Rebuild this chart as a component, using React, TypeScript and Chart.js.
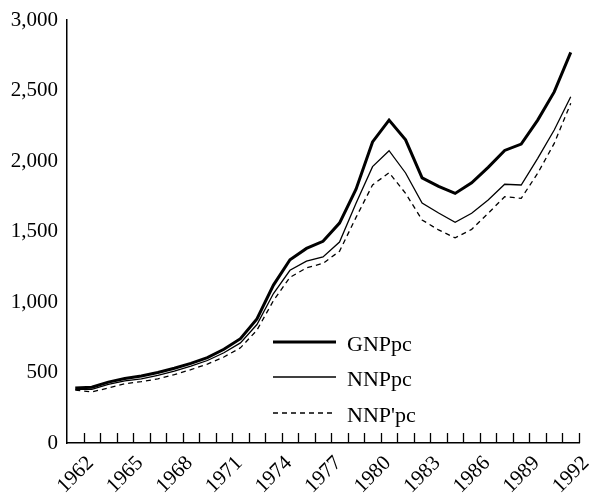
import { useEffect, useRef } from "react";
import { Chart, registerables } from "chart.js";

Chart.register(...registerables);

// Data years (each value is plotted in the middle of its year)
const years = [
  1961, 1962, 1963, 1964, 1965, 1966, 1967, 1968, 1969, 1970,
  1971, 1972, 1973, 1974, 1975, 1976, 1977, 1978, 1979, 1980,
  1981, 1982, 1983, 1984, 1985, 1986, 1987, 1988, 1989, 1990, 1991,
];

const gnpPc = [
  390, 395, 432, 458, 475, 500, 530, 565, 605, 665,
  740, 880, 1120, 1300, 1380, 1430, 1560, 1800, 2135, 2290,
  2150, 1880, 1820, 1770, 1845, 1955, 2075, 2120, 2290, 2490, 2770,
];

const nnpPc = [
  380, 380, 415, 440, 455, 480, 510, 545, 585, 640,
  710, 840, 1060, 1225, 1290, 1320, 1425, 1700, 1960, 2073,
  1915, 1702, 1631, 1565, 1629, 1723, 1835, 1830, 2019, 2220, 2456,
];

const nnpPrimePc = [
  375, 362, 390, 420, 435, 455, 485, 520, 560, 610,
  675, 800, 1010, 1175, 1242, 1274, 1360, 1600, 1830, 1917,
  1771, 1582, 1511, 1455, 1515, 1629, 1747, 1735, 1913, 2125, 2409,
];

const seriesLabels = ["GNPpc", "NNPpc", "NNP'pc"];

const xLabelYears = [1962, 1965, 1968, 1971, 1974, 1977, 1980, 1983, 1986, 1989, 1992];
const xTickMarkYears = [
  1962, 1963, 1964, 1965, 1966, 1967, 1968, 1969, 1970, 1971, 1972,
  1973, 1974, 1975, 1976, 1977, 1978, 1979, 1980, 1981, 1982, 1983,
  1984, 1985, 1986, 1987, 1988, 1989, 1990, 1991, 1992,
];
const yTickValues = [0, 500, 1000, 1500, 2000, 2500, 3000];

const FONT_FAMILY = "'Liberation Serif', 'DejaVu Serif', serif";

const toPoints = (vals: number[]) => vals.map((v, i) => ({ x: years[i] + 0.5, y: v }));

const innerTicksPlugin = {
  id: "innerTicks",
  afterDraw(chart: any) {
    const xs = chart.scales.x;
    const { ctx, chartArea } = chart;
    ctx.save();
    ctx.strokeStyle = "#000";
    ctx.lineWidth = 1.3;
    ctx.beginPath();
    xTickMarkYears.forEach((yr) => {
      const px = Math.round(xs.getPixelForValue(yr)) + 0.5;
      ctx.moveTo(px, chartArea.bottom);
      ctx.lineTo(px, chartArea.bottom - 10);
    });
    ctx.stroke();
    ctx.restore();
  },
};

const inlineLegendPlugin = {
  id: "inlineLegend",
  afterDraw(chart: any) {
    const { ctx } = chart;
    const rows = [
      { y: 342, width: 3, dash: [] as number[] },
      { y: 377, width: 1.3, dash: [] as number[] },
      { y: 413, width: 1.3, dash: [5, 4] },
    ];
    ctx.save();
    rows.forEach((r, i) => {
      ctx.strokeStyle = "#000";
      ctx.lineWidth = r.width;
      ctx.setLineDash(r.dash);
      ctx.beginPath();
      ctx.moveTo(273, r.y);
      ctx.lineTo(336, r.y);
      ctx.stroke();
      ctx.setLineDash([]);
      ctx.fillStyle = "#000";
      ctx.font = `22px ${FONT_FAMILY}`;
      ctx.textAlign = "left";
      ctx.textBaseline = "middle";
      ctx.fillText(seriesLabels[i], 347, r.y + 3);
    });
    ctx.restore();
  },
};

export default function App() {
  const canvasRef = useRef<HTMLCanvasElement | null>(null);

  useEffect(() => {
    document.body.style.margin = "0";
    const canvas = canvasRef.current;
    if (!canvas) return;
    const chart = new Chart(canvas, {
      type: "line",
      data: {
        datasets: [
          {
            label: seriesLabels[0],
            data: toPoints(gnpPc),
            borderColor: "#000",
            borderWidth: 3,
            pointRadius: 0,
            tension: 0,
            fill: false,
          },
          {
            label: seriesLabels[1],
            data: toPoints(nnpPc),
            borderColor: "#000",
            borderWidth: 1.3,
            pointRadius: 0,
            tension: 0,
            fill: false,
          },
          {
            label: seriesLabels[2],
            data: toPoints(nnpPrimePc),
            borderColor: "#000",
            borderWidth: 1.3,
            borderDash: [5, 4],
            pointRadius: 0,
            tension: 0,
            fill: false,
          },
        ],
      },
      options: {
        responsive: false,
        animation: false,
        devicePixelRatio: 1,
        layout: { padding: { top: 20, right: 11, left: 0, bottom: 0 } },
        plugins: {
          legend: { display: false },
          tooltip: { enabled: false },
        },
        scales: {
          x: {
            type: "linear",
            min: 1961,
            max: 1992,
            afterBuildTicks: (s: any) => {
              s.ticks = xLabelYears.map((v) => ({ value: v }));
            },
            afterFit: (s: any) => {
              s.height = 51;
              s.paddingLeft = 0;
              s.paddingRight = 0;
            },
            grid: { display: false, drawTicks: false },
            border: { display: true, color: "#000", width: 1.5 },
            ticks: {
              autoSkip: false,
              maxRotation: 45,
              minRotation: 45,
              padding: 8,
              labelOffset: 7,
              color: "#000",
              font: { family: FONT_FAMILY, size: 21 },
              callback: (v: any) => String(v),
            },
          },
          y: {
            type: "linear",
            min: 0,
            max: 3000,
            afterBuildTicks: (s: any) => {
              s.ticks = yTickValues.map((v) => ({ value: v }));
            },
            afterFit: (s: any) => {
              s.width = 67;
              s.paddingTop = 0;
              s.paddingBottom = 0;
            },
            grid: { display: false, drawTicks: false },
            border: { display: true, color: "#000", width: 1.5 },
            ticks: {
              padding: 9,
              color: "#000",
              font: { family: FONT_FAMILY, size: 21 },
              callback: (v: any) => Number(v).toLocaleString("en-US"),
            },
          },
        },
      },
      plugins: [innerTicksPlugin, inlineLegendPlugin],
    });
    return () => chart.destroy();
  }, []);

  return (
    <div style={{ position: "fixed", left: 0, top: 0, width: 590, height: 494, background: "#fff" }}>
      <canvas ref={canvasRef} width={590} height={494} />
    </div>
  );
}
